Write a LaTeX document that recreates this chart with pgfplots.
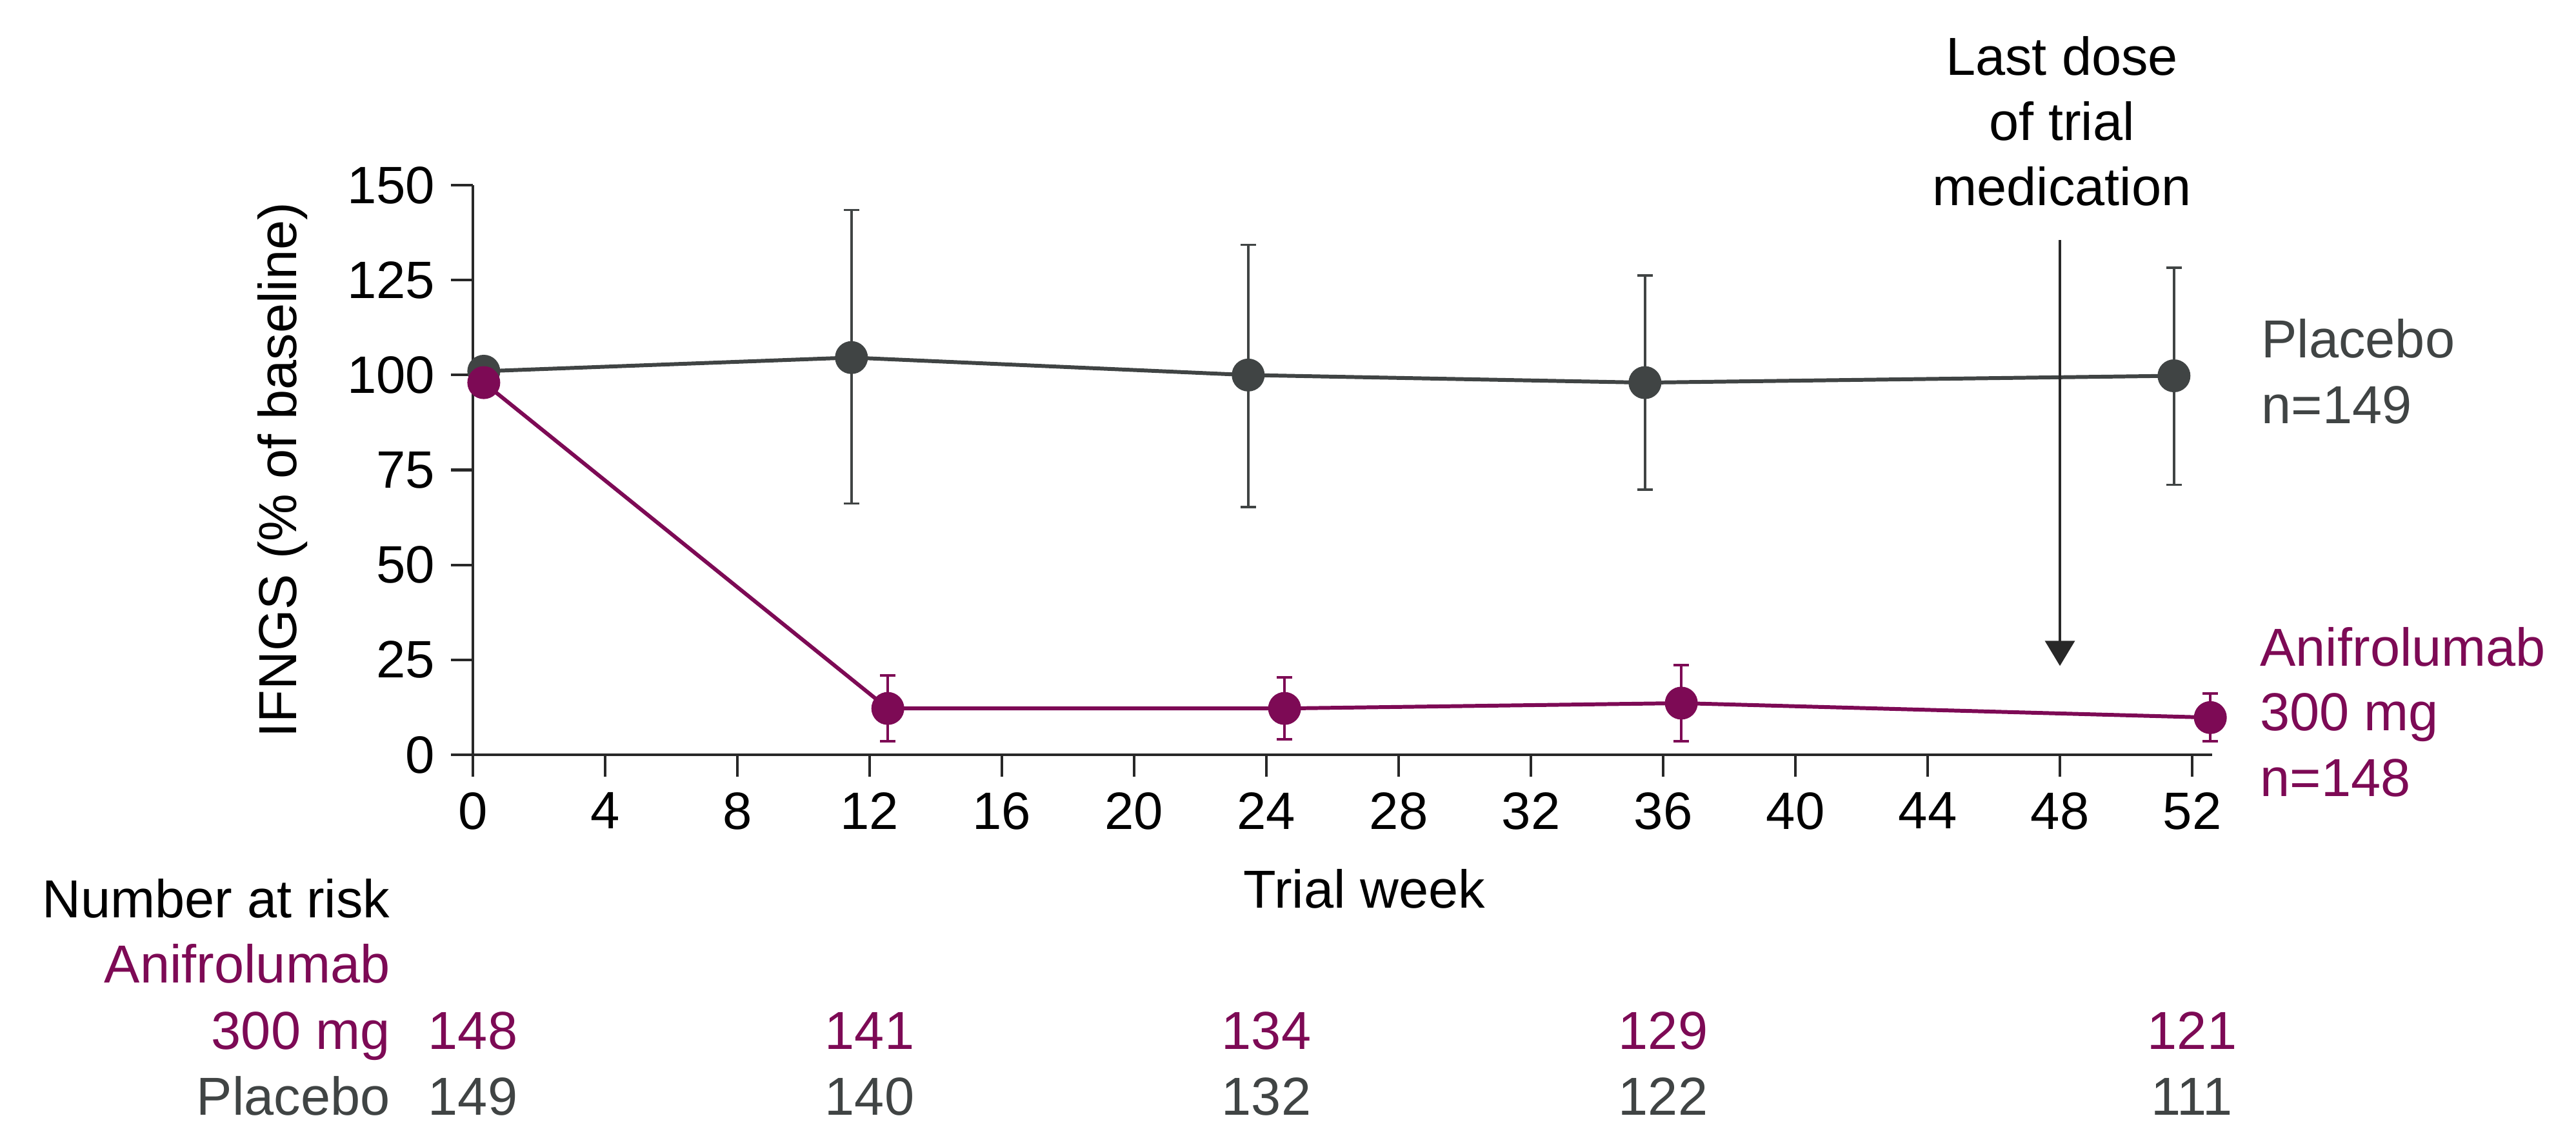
\documentclass[border=0pt]{standalone}
\usepackage{fontspec}
\setmainfont{Liberation Sans}
\usepackage{pgfplots}
\usepackage{pgfplotstable}
\pgfplotsset{compat=1.18}
\usetikzlibrary{arrows.meta}

\definecolor{anif}{RGB}{125,10,85}
\definecolor{plac}{RGB}{64,68,68}
\definecolor{axisgray}{RGB}{40,40,40}

% week, mean, upper and lower error
\pgfplotstableread{
x     y     ep   em
0.33  101.0 0    0
11.45 104.6 38.9 38.4
23.45 100.0 34.3 34.8
35.45 98.0  28.2 28.2
51.45 99.8  28.5 28.7
}\placebo

\pgfplotstableread{
x     y     ep   em
0.33  98.0  0    0
12.55 12.2  8.7  8.6
24.55 12.2  8.2  8.1
36.55 13.6  10.0 10.0
52.55 9.8   6.3  6.2
}\anifro

\begin{document}
\begin{tikzpicture}[lab/.style={inner sep=0pt}]
\path[use as bounding box] (-36.65mm,-30.35mm) rectangle (163.0mm,58.5mm);
\begin{axis}[
    at={(0,0)}, anchor=south west,
    scale only axis, width=134.79mm, height=44.15mm,
    xmin=0, xmax=52.6, ymin=0, ymax=150,
    axis lines*=left,
    axis line style={axisgray, line width=0.65pt},
    xtick={0,4,...,52}, ytick={0,25,...,150},
    tick align=outside, major tick length=1.7mm,
    tick style={axisgray, line width=0.6pt},
    clip=false,
    font=\fontsize{11.8}{14.3}\selectfont,
    ticklabel style={font=\fontsize{11.6}{13}\selectfont},
    /pgf/number format/assume math mode=true,
    xlabel={Trial week},
    xlabel style={at={(axis description cs:0.5127,-0.2684)}, anchor=base, inner sep=0pt},
    ylabel={IFNGS (\% of baseline)},
    ylabel style={at={(axis description cs:-0.1013,0.5)}, anchor=base, inner sep=0pt},
  ]
  \addplot[plac, line width=0.85pt, mark=*, mark size=3.2pt,
    error bars/.cd, y dir=both, y explicit,
    error bar style={line width=0.5pt},
    error mark options={rotate=90, mark size=0.6mm, line width=0.5pt}]
    table[x=x, y=y, y error plus=ep, y error minus=em] {\placebo};
  \addplot[anif, line width=0.85pt, mark=*, mark size=3.2pt,
    error bars/.cd, y dir=both, y explicit,
    error bar style={line width=0.5pt},
    error mark options={rotate=90, mark size=0.6mm, line width=0.5pt}]
    table[x=x, y=y, y error plus=ep, y error minus=em] {\anifro};

  % last dose arrow
  \draw[axisgray, line width=0.55pt, -{Triangle[length=1.95mm, width=2.3mm]}]
    (axis cs:48,135.5) -- (axis cs:48,23.4);
  \node[lab, anchor=base] at (axis cs:48.06,179.0) {Last dose};
  \node[lab, anchor=base] at (axis cs:48.06,161.8) {of trial};
  \node[lab, anchor=base] at (axis cs:48.06,144.6) {medication};

  % group labels
  \node[lab, anchor=base west, text=plac] at (axis cs:54.07,104.6) {Placebo};
  \node[lab, anchor=base west, text=plac] at (axis cs:54.07,87.3) {n=149};
  \node[lab, anchor=base west, text=anif] at (axis cs:54.03,23.44) {Anifrolumab};
  \node[lab, anchor=base west, text=anif] at (axis cs:54.03,6.29) {300 mg};
  \node[lab, anchor=base west, text=anif] at (axis cs:54.03,-10.87) {n=148};

  % number at risk
  \node[lab, anchor=base east] at (axis cs:-2.48,-42.81) {Number at risk};
  \node[lab, anchor=base east, text=anif] at (axis cs:-2.48,-59.97) {Anifrolumab};
  \node[lab, anchor=base east, text=anif] at (axis cs:-2.48,-77.63) {300 mg};
  \node[lab, anchor=base east, text=plac] at (axis cs:-2.48,-94.79) {Placebo};
  \node[lab, anchor=base, text=anif] at (axis cs:0,-77.63) {148};
  \node[lab, anchor=base, text=anif] at (axis cs:12,-77.63) {141};
  \node[lab, anchor=base, text=anif] at (axis cs:24,-77.63) {134};
  \node[lab, anchor=base, text=anif] at (axis cs:36,-77.63) {129};
  \node[lab, anchor=base, text=anif] at (axis cs:52,-77.63) {121};
  \node[lab, anchor=base, text=plac] at (axis cs:0,-94.79) {149};
  \node[lab, anchor=base, text=plac] at (axis cs:12,-94.79) {140};
  \node[lab, anchor=base, text=plac] at (axis cs:24,-94.79) {132};
  \node[lab, anchor=base, text=plac] at (axis cs:36,-94.79) {122};
  \node[lab, anchor=base, text=plac] at (axis cs:52,-94.79) {111};
\end{axis}
\end{tikzpicture}
\end{document}
